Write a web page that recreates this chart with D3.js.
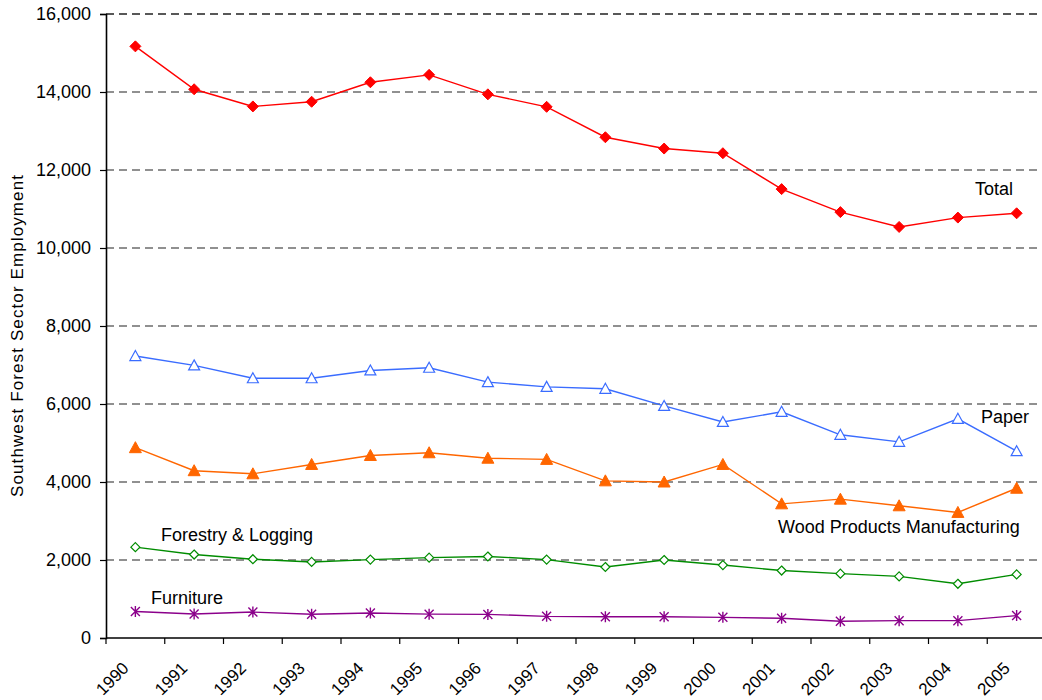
<!DOCTYPE html>
<html>
<head>
<meta charset="utf-8">
<script src="https://cdn.jsdelivr.net/npm/d3@7"></script>
<style>
  body { margin: 0; background: #fff; }
  svg { font-family: Arial, "Liberation Sans", sans-serif; }
</style>
</head>
<body>
<div id="chart"></div>
<script>
// data
const years = ["1990", "1991", "1992", "1993", "1994", "1995", "1996", "1997",
               "1998", "1999", "2000", "2001", "2002", "2003", "2004", "2005"];
const total = [15170, 14070, 13630, 13750, 14250, 14440, 13940, 13620,
               12840, 12550, 12430, 11510, 10920, 10540, 10780, 10890];
const paper = [7230, 6990, 6660, 6660, 6860, 6930, 6560, 6440,
               6390, 5950, 5540, 5800, 5210, 5030, 5620, 4790];
const wood = [4880, 4290, 4210, 4450, 4680, 4750, 4610, 4580,
              4030, 4000, 4450, 3440, 3560, 3390, 3220, 3840];
const forestry = [2330, 2140, 2020, 1950, 2010, 2060, 2090, 2010,
                  1820, 2000, 1870, 1730, 1650, 1580, 1390, 1630];
const furniture = [680, 615, 665, 610, 640, 612, 605, 555,
                   545, 545, 530, 505, 430, 445, 445, 575];
const yTicks = [0, 2000, 4000, 6000, 8000, 10000, 12000, 14000, 16000];

const series = [
    { name: "Total", values: total, color: "#ff0000", marker: "diamondFill", label: [975, 195] },
    { name: "Paper", values: paper, color: "#3a6cff", marker: "triangleOpen", label: [981, 423] },
    { name: "Wood Products Manufacturing", values: wood, color: "#ff6600", marker: "triangleFill", label: [778, 533] },
    { name: "Forestry & Logging", values: forestry, color: "#008c00", marker: "diamondOpen", label: [161, 541] },
    { name: "Furniture", values: furniture, color: "#8b008b", marker: "star", label: [151, 604] }
];

const W = 1042, H = 700;
const margin = { left: 106, right: 1046, top: 14, bottom: 638 };

const svg = d3.select("#chart")
    .append("svg")
    .attr("width", W)
    .attr("height", H);

const x = d3.scaleBand()
    .domain(years)
    .range([margin.left, margin.right]);

const y = d3.scaleLinear()
    .domain([0, 16000])
    .range([margin.bottom, margin.top]);

const cx = d => x(d) + x.bandwidth() / 2;

// dashed gridlines
svg.append("g")
    .selectAll("line")
    .data(yTicks.filter(d => d > 0))
    .enter()
    .append("line")
    .attr("x1", margin.left)
    .attr("x2", W)
    .attr("y1", d => y(d))
    .attr("y2", d => y(d))
    .attr("stroke", "#222")
    .attr("stroke-width", d => d === 16000 ? 1.6 : 1.1)
    .attr("stroke-dasharray", "8,5");

// y axis
const yAxis = svg.append("g")
    .attr("transform", `translate(${margin.left},0)`)
    .call(d3.axisLeft(y).tickValues(yTicks).tickSize(6).tickPadding(9).tickFormat(d3.format(",")));
yAxis.select(".domain").attr("stroke", "#000").attr("stroke-width", 1.6);
yAxis.selectAll(".tick line").attr("stroke", "#000").attr("stroke-width", 1.2);
yAxis.selectAll("text").attr("font-size", "18px").attr("fill", "#000")
    .attr("font-family", "Arial, 'Liberation Sans', sans-serif");

// x axis
svg.append("line")
    .attr("x1", margin.left).attr("x2", W)
    .attr("y1", margin.bottom).attr("y2", margin.bottom)
    .attr("stroke", "#000").attr("stroke-width", 1.6);

svg.append("g")
    .selectAll("line")
    .data(years)
    .enter()
    .append("line")
    .attr("x1", d => x(d))
    .attr("x2", d => x(d))
    .attr("y1", margin.bottom)
    .attr("y2", margin.bottom + 6)
    .attr("stroke", "#000")
    .attr("stroke-width", 1.2);

svg.append("g")
    .selectAll("text")
    .data(years)
    .enter()
    .append("text")
    .attr("transform", d => `translate(${cx(d) - 14},${margin.bottom + 23}) rotate(-45)`)
    .attr("text-anchor", "end")
    .attr("dy", "0.7em")
    .attr("font-size", "17px")
    .text(d => d);

// y axis title
svg.append("text")
    .attr("transform", `translate(23,336) rotate(-90)`)
    .attr("text-anchor", "middle")
    .attr("font-size", "17px")
    .attr("textLength", 322)
    .attr("lengthAdjust", "spacing")
    .text("Southwest Forest Sector Employment");

const line = d3.line()
    .x((d, i) => cx(years[i]))
    .y(d => y(d));

function drawMarker(g, type, color) {
    if (type === "diamondFill") {
        g.append("path").attr("d", "M0,-5.5L5.5,0L0,5.5L-5.5,0Z")
            .attr("fill", color).attr("stroke", color);
    } else if (type === "diamondOpen") {
        g.append("path").attr("d", "M0,-4.5L4.5,0L0,4.5L-4.5,0Z")
            .attr("fill", "#fff").attr("stroke", color).attr("stroke-width", 1.2);
    } else if (type === "triangleOpen") {
        g.append("path").attr("d", "M0,-5.5L5.5,4.5L-5.5,4.5Z")
            .attr("fill", "#fff").attr("stroke", color).attr("stroke-width", 1.2);
    } else if (type === "triangleFill") {
        g.append("path").attr("d", "M0,-6L6,5L-6,5Z")
            .attr("fill", color).attr("stroke", color);
    } else if (type === "star") {
        g.append("path").attr("d", "M-4.5,-4.5L4.5,4.5M-4.5,4.5L4.5,-4.5M0,-5.5L0,5.5")
            .attr("fill", "none").attr("stroke", color).attr("stroke-width", 1.4);
    }
}

series.forEach(s => {
    svg.append("path")
        .datum(s.values)
        .attr("fill", "none")
        .attr("stroke", s.color)
        .attr("stroke-width", 1.4)
        .attr("d", line);

    svg.append("g")
        .selectAll("g")
        .data(s.values)
        .enter()
        .append("g")
        .attr("transform", (d, i) => `translate(${cx(years[i])},${y(d)})`)
        .each(function () { drawMarker(d3.select(this), s.marker, s.color); });

    svg.append("text")
        .attr("x", s.label[0])
        .attr("y", s.label[1])
        .attr("font-size", "18px")
        .attr("fill", "#000")
        .text(s.name);
});
</script>
</body>
</html>
